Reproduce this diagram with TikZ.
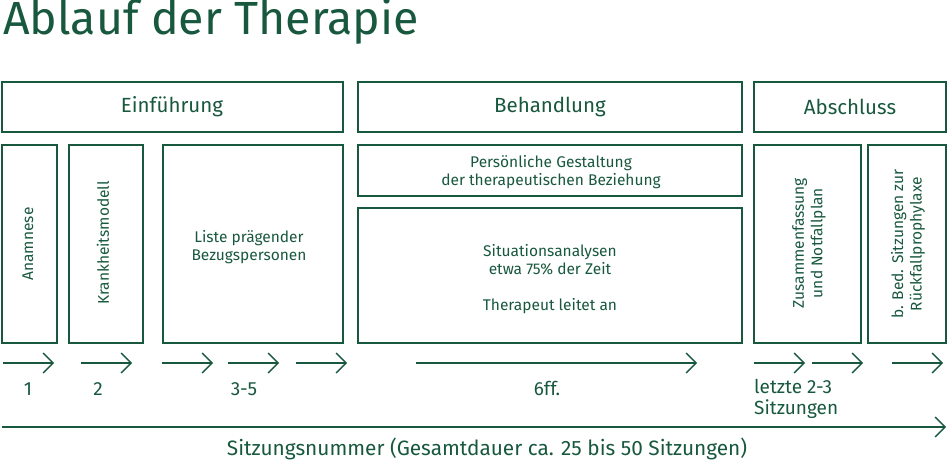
\documentclass[tikz,border=0pt]{standalone}
\usepackage{fontspec}
\setmainfont{Fira Sans}
\usetikzlibrary{arrows.meta}
\definecolor{dg}{RGB}{24,88,62}
\begin{document}
\begin{tikzpicture}[x=1pt,y=-1pt,
  box/.style={draw=dg,line width=1.6pt},
  txt/.style={text=dg,font=\fontsize{15.5}{18.5}\selectfont,align=center,inner sep=0pt},
  head/.style={text=dg,font=\fontsize{20.5}{24}\selectfont,inner sep=0pt},
  lab/.style={text=dg,font=\fontsize{19}{22}\selectfont,inner sep=0pt},
  arr/.style={draw=dg,line width=1.4pt,-{Straight Barb[length=10pt,width=20pt,line width=1.4pt]}}]
\useasboundingbox (0,0) rectangle (948,462);
\node[anchor=north west,inner sep=0pt,text=dg,font=\fontsize{46.5}{50}\selectfont] (title) at (3,-1.5) {Ablauf der Therapie};
% header boxes
\draw[box] (2,82) rectangle (343,132);
\node[head] (h1) at (172,107) {Einführung};
\draw[box] (358,82) rectangle (742,132);
\node[head] (h2) at (550,107) {Behandlung};
\draw[box] (754,82) rectangle (946,132);
\node[head] (h3) at (850,107) {Abschluss};
% detail boxes
\draw[box] (2,145) rectangle (57,343);
\node[txt,rotate=90] (b1) at (28,244) {Anamnese};
\draw[box] (69,145) rectangle (143,343);
\node[txt,rotate=90] (b2) at (103,243) {Krankheitsmodell};
\draw[box] (163,145) rectangle (343,343);
\node[txt] (b3) at (249,247) {Liste prägender\\Bezugspersonen};
\draw[box] (358,145) rectangle (742,196);
\node[txt] (b4) at (551,172) {Persönliche Gestaltung\\der therapeutischen Beziehung};
\draw[box] (358,208) rectangle (742,343);
\node[txt] (b5) at (550,279) {Situationsanalysen\\etwa 75\% der Zeit\\[17pt]Therapeut leitet an};
\draw[box] (754,145) rectangle (861,343);
\node[txt,rotate=90] (b6) at (809,243) {Zusammenfassung\\und Notfallplan};
\draw[box] (868,145) rectangle (946,343);
\node[txt,rotate=90] (b7) at (908,244) {b. Bed. Sitzungen zur\\Rückfallprophylaxe};
% arrows
\foreach \a/\b [count=\i] in {3/54,81/132,162/213,228/279,296/347,416/697,754/805,812/863,892/943}{
  \coordinate (s\i) at (\a,363);
  \coordinate (e\i) at (\b,363);
  \draw[arr] (s\i) -- (e\i);
}
\node[lab] (l1) at (28,389) {1};
\node[lab] (l2) at (98,389) {2};
\node[lab] (l3) at (244,389) {3-5};
\node[lab] (l4) at (547,388) {6ff.};
\node[lab,anchor=north west,align=left,font=\fontsize{19}{21}\selectfont] (l5) at (754,379) {letzte 2-3\\Sitzungen};
\coordinate (ts) at (2,427);
\coordinate (te) at (946,427);
\draw[arr] (ts) -- (te);
\node[lab,font=\fontsize{20.8}{24}\selectfont] (total) at (487,449) {Sitzungsnummer (Gesamtdauer ca. 25 bis 50 Sitzungen)};
\end{tikzpicture}
\end{document}
